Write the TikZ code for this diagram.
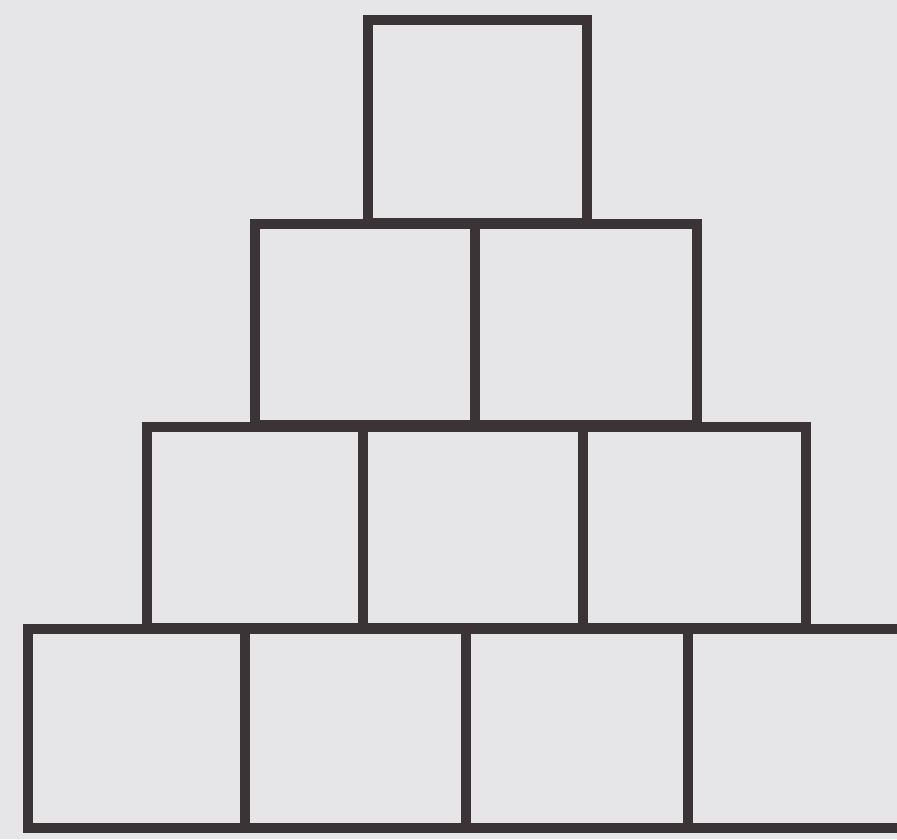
\documentclass[tikz,border=0pt]{standalone}
\definecolor{bg}{HTML}{E6E6E8}
\definecolor{ink}{HTML}{3A3436}
\begin{document}
\begin{tikzpicture}[x=1pt,y=-1pt,
  box/.style={draw=ink, line width=10pt, rectangle, inner sep=0pt, outer sep=0pt, anchor=north west, fill=bg, line join=miter}]
\fill[bg] (0,0) rectangle (897,839);
\useasboundingbox (0,0) rectangle (897,839);
\clip (0,0) rectangle (897,839);
% row 4 (bottom)
\node[box, minimum width=217pt, minimum height=199pt] (d1) at (28,629) {};
\node[box, minimum width=221pt, minimum height=199pt] (d2) at (245,629) {};
\node[box, minimum width=222pt, minimum height=199pt] (d3) at (466,629) {};
\node[box, minimum width=222pt, minimum height=199pt] (d4) at (688,629) {};
% row 3
\node[box, minimum width=216pt, minimum height=201pt] (c1) at (147,427) {};
\node[box, minimum width=220pt, minimum height=201pt] (c2) at (363,427) {};
\node[box, minimum width=223pt, minimum height=201pt] (c3) at (583,427) {};
% row 2
\node[box, minimum width=220pt, minimum height=201pt] (b1) at (255,224) {};
\node[box, minimum width=222pt, minimum height=201pt] (b2) at (475,224) {};
% row 1 (top)
\node[box, minimum width=219pt, minimum height=203pt] (a1) at (368,20) {};
\end{tikzpicture}
\end{document}
